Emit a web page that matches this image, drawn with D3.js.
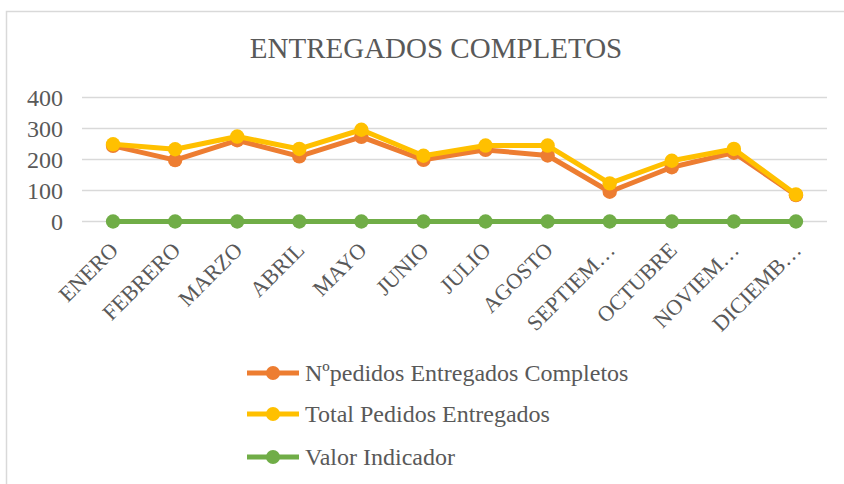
<!DOCTYPE html>
<html>
<head>
<meta charset="utf-8">
<script src="https://cdn.jsdelivr.net/npm/d3@7"></script>
<style>
  html, body { margin: 0; padding: 0; background: #fff; }
  svg { display: block; }
  text { font-family: "Liberation Serif", "Times New Roman", serif; fill: #595959; }
</style>
</head>
<body>
<svg id="chart" width="844" height="484"></svg>
<script>
// Monthly delivery figures
const months = ["ENERO", "FEBRERO", "MARZO", "ABRIL", "MAYO", "JUNIO", "JULIO",
                "AGOSTO", "SEPTIEMBRE", "OCTUBRE", "NOVIEMBRE", "DICIEMBRE"];
const monthLabels = ["ENERO", "FEBRERO", "MARZO", "ABRIL", "MAYO", "JUNIO", "JULIO",
                     "AGOSTO", "SEPTIEM…", "OCTUBRE", "NOVIEM…", "DICIEMB…"];
const completos = [244, 198, 262, 210, 273, 199, 231, 213, 96, 175, 222, 85];
const totales   = [249, 233, 274, 234, 296, 212, 245, 245, 123, 196, 234, 87];
const indicador = [0, 0, 0, 0, 0, 0, 0, 0, 0, 0, 0, 0];
const yTicks = [0, 100, 200, 300, 400];

const seriesNames = ["Nºpedidos Entregados Completos", "Total Pedidos Entregados", "Valor Indicador"];
const seriesColors = ["#ED7D31", "#FFC000", "#70AD47"];
const seriesValues = [completos, totales, indicador];

const svg = d3.select("#chart");

// outer chart frame
svg.append("rect")
  .attr("x", 6.5).attr("y", 11.5)
  .attr("width", 900).attr("height", 600)
  .attr("fill", "#fff")
  .attr("stroke", "#d9d9d9").attr("stroke-width", 1.5);

// title
svg.append("text")
  .attr("x", 436).attr("y", 58)
  .attr("text-anchor", "middle")
  .style("font-size", "29px")
  .text("ENTREGADOS COMPLETOS");

const plot = { left: 82, right: 827, top: 97.5, bottom: 221.5 };

const x = d3.scalePoint()
  .domain(months)
  .range([plot.left, plot.right])
  .padding(0.5);

const y = d3.scaleLinear()
  .domain([0, 400])
  .range([plot.bottom, plot.top]);

// horizontal gridlines
svg.append("g")
  .selectAll("line")
  .data(yTicks)
  .join("line")
  .attr("x1", plot.left).attr("x2", plot.right)
  .attr("y1", d => y(d)).attr("y2", d => y(d))
  .attr("stroke", "#d9d9d9").attr("stroke-width", 1.3);

// y axis labels
const yAxis = d3.axisLeft(y).tickValues(yTicks).tickSize(0).tickPadding(0);
svg.append("g")
  .attr("transform", `translate(${plot.left - 19},0)`)
  .call(yAxis)
  .call(g => g.select(".domain").remove())
  .call(g => g.selectAll("text")
    .style("font-size", "24px")
    .style("font-family", "'Liberation Serif', serif")
    .attr("fill", "#595959")
    .attr("dy", "0.34em"));

// x axis labels, rotated
const xAxis = d3.axisBottom(x).tickSize(0).tickFormat((d, i) => monthLabels[i]);
svg.append("g")
  .attr("transform", `translate(0,${plot.bottom})`)
  .call(xAxis)
  .call(g => g.select(".domain").remove())
  .call(g => g.selectAll("text")
    .style("font-size", "22px")
    .style("font-family", "'Liberation Serif', serif")
    .attr("fill", "#595959")
    .attr("text-anchor", "end")
    .attr("y", 0).attr("dy", 0)
    .attr("transform", "translate(6,30) rotate(-45)"));

// series lines and markers
const line = d3.line()
  .x((d, i) => x(months[i]))
  .y(d => y(d));

seriesValues.forEach((vals, s) => {
  const g = svg.append("g");
  g.append("path")
    .datum(vals)
    .attr("d", line)
    .attr("fill", "none")
    .attr("stroke", seriesColors[s])
    .attr("stroke-width", 5)
    .attr("stroke-linejoin", "round");
  g.selectAll("circle")
    .data(vals)
    .join("circle")
    .attr("cx", (d, i) => x(months[i]))
    .attr("cy", d => y(d))
    .attr("r", 7.2)
    .attr("fill", seriesColors[s]);
});

// legend
const legendY = [373, 414, 457];
const lg = svg.append("g");
seriesNames.forEach((name, s) => {
  const row = lg.append("g").attr("transform", `translate(0,${legendY[s]})`);
  row.append("line")
    .attr("x1", 247).attr("x2", 299)
    .attr("y1", 0).attr("y2", 0)
    .attr("stroke", seriesColors[s]).attr("stroke-width", 5);
  row.append("circle")
    .attr("cx", 273).attr("cy", 0).attr("r", 7)
    .attr("fill", seriesColors[s]);
  row.append("text")
    .attr("x", 305).attr("y", 0).attr("dy", "0.33em")
    .style("font-size", "24px")
    .text(name);
});
</script>
</body>
</html>
